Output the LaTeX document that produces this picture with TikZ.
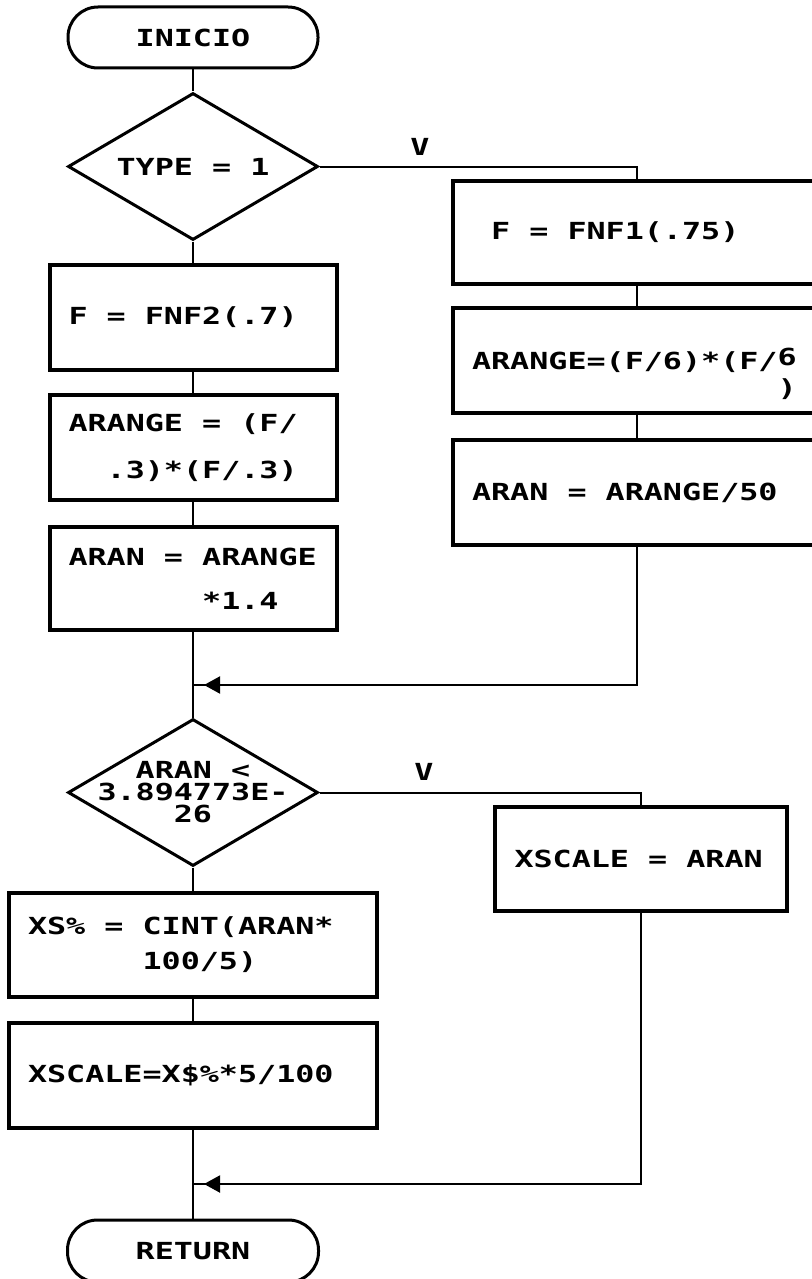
\documentclass[tikz,border=0pt]{standalone}
\usepackage{fontspec}
\setmainfont{DejaVu Sans Mono}[FakeStretch=1.35]
\usetikzlibrary{shapes.geometric,arrows.meta}

\begin{document}
\begin{tikzpicture}[x=1pt, y=-1pt,
    font=\fontsize{23.5}{28}\selectfont\bfseries,
    term/.style={draw, line width=3pt, rounded corners=30pt, minimum width=250pt, minimum height=61pt},
    cond/.style={draw, diamond, aspect=1.7, line width=3pt, inner sep=0pt, minimum width=250pt, minimum height=147pt},
    proc/.style={draw, line width=4pt, minimum height=105pt, inner xsep=19pt, align=flush left},
    flow/.style={line width=2pt},
    tip/.style={-{Triangle[length=16pt,width=17pt]}, line width=2pt}]
    \useasboundingbox (0,0) rectangle (811,1279);

    \node[term] (start) at (193,37.5) {INICIO};
    \node[cond] (d1) at (193,166.5) {TYPE = 1};
    \node (v1) at (420,147) {V};

    \node[proc, text width=249pt] (b1) at (193,317.5) {F = FNF2(.7)};
    \node[proc, text width=249pt] (b2) at (193,447.5) {ARANGE = (F/\\[19pt]\phantom{00}.3)*(F/.3)};
    \node[proc, text width=249pt, minimum height=103pt] (b3) at (193,578.5) {ARAN = ARANGE\\[16pt]\phantom{0000000}*1.4};

    \node[proc, text width=330pt, minimum height=103pt] (r1) at (637,232) {\phantom{0}F = FNF1(.75)};
    \node[proc, text width=330pt] (r2) at (637,360.5) {ARANGE=(F/6)*(F/\rlap{\raisebox{4pt}{6}}\smash{\raisebox{-27pt}{)}}};
    \node[proc, text width=330pt] (r3) at (637,492.5) {ARAN = ARANGE/50};
    \coordinate (j1) at (193,685);

    \node[cond] (d2) at (193,792.5) {};
    \node[align=center, font=\fontsize{23.5}{22}\selectfont\bfseries] (d2t) at (d2) {ARAN <\\3.894773E-\\26};
    \node (v2) at (424,772) {V};
    \node[proc, text width=252pt, minimum height=104pt, inner xsep=20pt] (r4) at (640.5,859) {XSCALE = ARAN};

    \node[proc, text width=330pt, minimum height=104pt] (b4) at (193,945) {XS\% = CINT(ARAN*\\[7pt]\phantom{000000}100/5)};
    \node[proc, text width=330pt] (b5) at (193,1075.5) {XSCALE=X\$\%*5/100};
    \coordinate (j2) at (193,1184);
    \node[term, minimum width=251pt, minimum height=62pt] (stop) at (193,1251) {RETURN};

    \draw[flow] (start) -- (d1);
    \draw[flow] (d1) -- (b1);
    \foreach \a/\b in {b1/b2, b2/b3, b3/d2, r1/r2, r2/r3, d2/b4, b4/b5, b5/stop}
      \draw[flow] (\a) -- (\b);
    \draw[flow] (d1.east) -| (r1.north);
    \draw[flow] (d2.east) -| (r4.north);
    \draw[flow] (r3.south) |- (j1);
    \draw[flow] (r4.south) |- (j2);
    \draw[tip] ([xshift=28pt]j1) -- ([xshift=11pt]j1);
    \draw[tip] ([xshift=28pt]j2) -- ([xshift=11pt]j2);
  \end{tikzpicture}
\end{document}
